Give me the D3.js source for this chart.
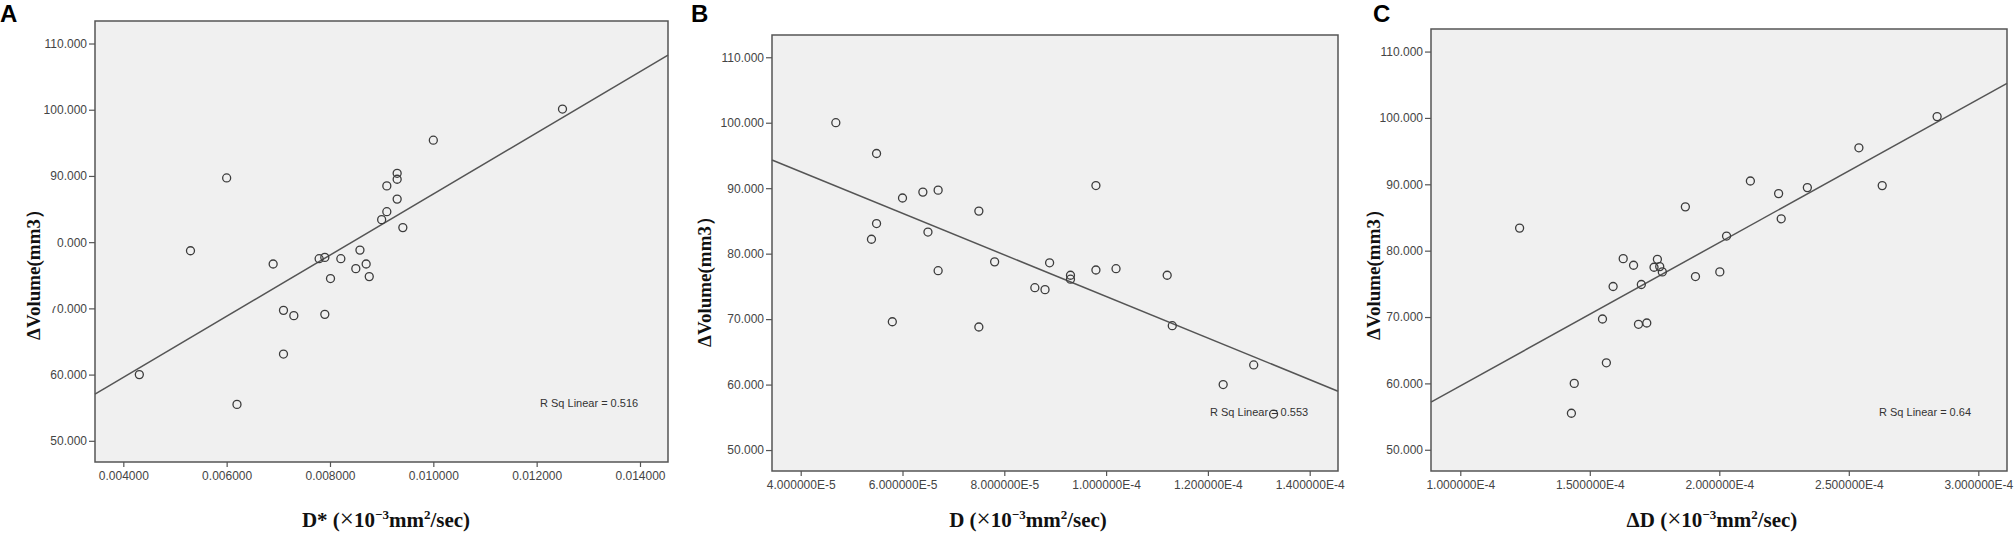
<!DOCTYPE html>
<html>
<head>
<meta charset="utf-8">
<script src="https://cdn.jsdelivr.net/npm/d3@7"></script>
<style>
  body { margin: 0; background: #fff; }
  svg { display: block; }
</style>
</head>
<body>
<div id="container"></div>
<script>
// values
const dStarA = [0.00431, 0.00530, 0.00600, 0.00620, 0.00690, 0.00710, 0.00710, 0.00730, 0.00779,
  0.00790, 0.00790, 0.00801, 0.00821, 0.00850, 0.00858, 0.00870, 0.00876, 0.00900, 0.00910,
  0.00910, 0.00930, 0.00930, 0.00930, 0.00941, 0.01000, 0.01250];
const volA = [60.0, 78.7, 89.7, 55.5, 76.7, 69.7, 63.1, 68.9, 77.5, 77.7, 69.1, 74.5, 77.5,
  76.0, 78.8, 76.7, 74.8, 83.4, 84.6, 88.5, 86.5, 89.5, 90.4, 82.2, 95.4, 100.1];

const dB = [4.69e-5, 5.49e-5, 6.00e-5, 6.40e-5, 6.70e-5, 7.50e-5, 5.49e-5, 5.39e-5, 6.50e-5,
  7.81e-5, 6.70e-5, 5.80e-5, 7.50e-5, 9.80e-5, 8.89e-5, 8.60e-5, 8.80e-5, 9.30e-5, 9.30e-5,
  9.80e-5, 1.0195e-4, 1.120e-4, 1.130e-4, 1.290e-4, 1.230e-4, 1.329e-4];
const volB = [100.0, 95.3, 88.5, 89.4, 89.7, 86.5, 84.6, 82.2, 83.3, 78.75, 77.4, 69.6, 68.8,
  90.4, 78.6, 74.8, 74.5, 76.7, 76.1, 77.5, 77.7, 76.7, 69.0, 63.0, 60.0, 55.5];

const deltaDC = [1.229e-4, 1.629e-4, 1.669e-4, 1.761e-4, 1.748e-4, 1.770e-4, 1.780e-4, 1.699e-4,
  1.590e-4, 1.549e-4, 1.688e-4, 1.720e-4, 1.564e-4, 1.440e-4, 1.429e-4, 1.869e-4, 1.908e-4,
  2.002e-4, 2.028e-4, 2.120e-4, 2.229e-4, 2.239e-4, 2.340e-4, 2.539e-4, 2.629e-4, 2.841e-4];
const volC = [83.4, 78.8, 77.8, 78.7, 77.5, 77.6, 76.8, 74.9, 74.6, 69.7, 68.9, 69.1, 63.1,
  60.0, 55.5, 86.6, 76.1, 76.8, 82.2, 90.5, 88.6, 84.8, 89.5, 95.5, 89.8, 100.2];

const xTicksA = [0.004, 0.006, 0.008, 0.010, 0.012, 0.014];
const xTicksB = [4e-5, 6e-5, 8e-5, 1e-4, 1.2e-4, 1.4e-4];
const xTicksC = [1e-4, 1.5e-4, 2e-4, 2.5e-4, 3e-4];
const yTicks = [50, 60, 70, 80, 90, 100, 110];
const rSquared = ["0.516", "0.553", "0.64"];
const panelLetters = ["A", "B", "C"];
const xTitlePrefix = ["D* ", "D ", "\u0394D "];

const svg = d3.select("#container")
  .append("svg")
  .attr("width", 2014)
  .attr("height", 549);

const sciFormat = v => d3.format(".6e")(v).replace("e", "E");

// layout of each panel (pixel boxes of the plot frame)
const panels = [
  { x: dStarA, y: volA, ticks: xTicksA, fmt: d3.format(".6f"),
    left: 95, right: 668, top: 21, bottom: 462, xDomain: [0.003452, 0.014542],
    letterX: 0, yTitleX: 40, yTitleY: 270, xTitleX: 386, mask: true },
  { x: dB, y: volB, ticks: xTicksB, fmt: sciFormat,
    left: 772, right: 1338, top: 35, bottom: 471, xDomain: [3.436e-5, 1.4556e-4],
    letterX: 691, yTitleX: 711, yTitleY: 277, xTitleX: 1028, mask: false },
  { x: deltaDC, y: volC, ticks: xTicksC, fmt: sciFormat,
    left: 1431, right: 2007, top: 29, bottom: 471, xDomain: [0.8869e-4, 3.1108e-4],
    letterX: 1373, yTitleX: 1380, yTitleY: 270, xTitleX: 1712, mask: false }
];

panels.forEach((p, i) => drawPanel(p, i));

function drawPanel(p, i) {
  const xScale = d3.scaleLinear().domain(p.xDomain).range([p.left, p.right]);
  const yScale = d3.scaleLinear().domain([46.8, 113.4]).range([p.bottom, p.top]);
  const g = svg.append("g");

  g.append("rect")
    .attr("x", p.left)
    .attr("y", p.top)
    .attr("width", p.right - p.left)
    .attr("height", p.bottom - p.top)
    .attr("fill", "#f0f0f0")
    .attr("stroke", "#555")
    .attr("stroke-width", 1.5);

  const xAxis = d3.axisBottom(xScale).tickValues(p.ticks).tickFormat(p.fmt)
    .tickSize(5).tickPadding(4).tickSizeOuter(0);
  const yAxis = d3.axisLeft(yScale).tickValues(yTicks).tickFormat(d3.format(".3f"))
    .tickSize(6).tickPadding(2).tickSizeOuter(0);

  const xg = g.append("g").attr("transform", `translate(0, ${p.bottom})`).call(xAxis);
  const yg = g.append("g").attr("transform", `translate(${p.left}, 0)`).call(yAxis);
  [xg, yg].forEach(a => {
    a.select(".domain").remove();
    a.selectAll("line").attr("stroke", "#555").attr("stroke-width", 1.2);
    a.selectAll("text")
      .attr("font-family", "Liberation Sans, Arial, sans-serif")
      .attr("font-size", 12)
      .attr("fill", "#444");
  });

  // least squares fit line
  const mx = d3.mean(p.x), my = d3.mean(p.y);
  const sxy = d3.sum(p.x, (v, k) => (v - mx) * (p.y[k] - my));
  const sxx = d3.sum(p.x, v => (v - mx) * (v - mx));
  const slope = sxy / sxx;
  const icpt = my - slope * mx;
  g.append("line")
    .attr("x1", xScale(p.xDomain[0]))
    .attr("y1", yScale(icpt + slope * p.xDomain[0]))
    .attr("x2", xScale(p.xDomain[1]))
    .attr("y2", yScale(icpt + slope * p.xDomain[1]))
    .attr("stroke", "#555")
    .attr("stroke-width", 1.5);

  g.selectAll(".pt")
    .data(d3.range(p.x.length))
    .enter()
    .append("circle")
    .attr("class", "pt")
    .attr("cx", k => xScale(p.x[k]))
    .attr("cy", k => yScale(p.y[k]))
    .attr("r", 4)
    .attr("fill", "none")
    .attr("stroke", "#3c3c3c")
    .attr("stroke-width", 1.3);

  g.append("text")
    .attr("x", p.right - 128)
    .attr("y", p.bottom - 55)
    .attr("font-family", "Liberation Sans, Arial, sans-serif")
    .attr("font-size", 11)
    .attr("fill", "#333")
    .text("R Sq Linear = " + rSquared[i]);

  g.append("text")
    .attr("x", p.letterX)
    .attr("y", 22)
    .attr("font-family", "Liberation Sans, Arial, sans-serif")
    .attr("font-weight", "bold")
    .attr("font-size", 24)
    .attr("fill", "#000")
    .text(panelLetters[i]);

  // the y title in panel A sits on a white box that hides part of two tick labels
  if (p.mask) {
    g.append("rect")
      .attr("x", 10).attr("y", 190)
      .attr("width", 47).attr("height", 116)
      .attr("fill", "#fff");
  }

  g.append("text")
    .attr("transform", `translate(${p.yTitleX}, ${p.yTitleY}) rotate(-90)`)
    .attr("text-anchor", "middle")
    .attr("font-family", "Liberation Serif, Times New Roman, serif")
    .attr("font-weight", "bold")
    .attr("font-size", 19)
    .attr("fill", "#111")
    .text("\u0394Volume(mm3\uFF09");

  const xt = g.append("text")
    .attr("x", p.xTitleX)
    .attr("y", 527)
    .attr("text-anchor", "middle")
    .attr("font-family", "Liberation Serif, Times New Roman, serif")
    .attr("font-weight", "bold")
    .attr("font-size", 21)
    .attr("fill", "#111");
  xt.append("tspan").text(xTitlePrefix[i] + "(");
  xt.append("tspan").attr("font-weight", "normal").attr("font-size", 25).text("\u00D7");
  xt.append("tspan").text("10");
  xt.append("tspan").attr("dy", -8).attr("font-size", 13).text("\u22123");
  xt.append("tspan").attr("dy", 8).text("mm");
  xt.append("tspan").attr("dy", -8).attr("font-size", 13).text("2");
  xt.append("tspan").attr("dy", 8).text("/sec)");
}
</script>
</body>
</html>
